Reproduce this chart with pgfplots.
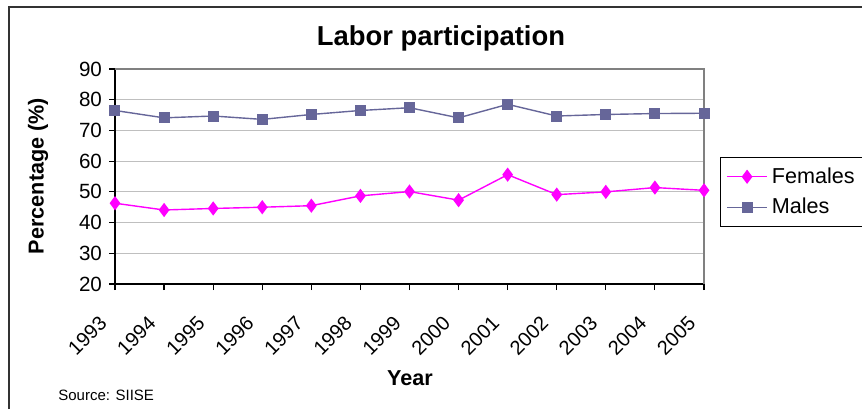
\documentclass[border=0pt]{standalone}
\usepackage{pgfplots}
\pgfplotsset{compat=1.18}
\usepackage{fontspec}
\setmainfont{Liberation Sans}
\definecolor{fem}{RGB}{255,0,255}
\definecolor{mal}{RGB}{102,102,153}
\begin{document}
\begin{tikzpicture}
\useasboundingbox (0,0) rectangle (431pt,204.5pt);
\draw[line width=1pt, black!80] (4.5pt,0) -- (4.5pt,201pt) -- (431pt,201pt);
\begin{axis}[
  at={(57.5pt,62.5pt)}, anchor=south west,
  scale only axis, width=294.5pt, height=107.5pt,
  xmin=1993, xmax=2005, ymin=20, ymax=90,
  xtick={1993,...,2005}, ytick={20,30,...,90},
  /pgf/number format/assume math mode=true,
  x tick label style={/pgf/number format/1000 sep={}, xshift=-8.5pt, yshift=-10pt, rotate=45, anchor=north east, font=\fontsize{10}{12}\selectfont, inner sep=1.5pt},
  y tick label style={font=\fontsize{10.3}{12}\selectfont},
  tick align=outside, tick pos=left,
  major tick length=3pt,
  ymajorgrids, grid style={gray!50, line width=0.6pt},
  axis line style={line width=0.6pt},
  axis x line*=bottom, axis y line*=left,
  tick style={black, line width=0.6pt},
  clip=false,
  legend style={at={(1.027,0.591)}, anchor=north west, draw=black, line width=0.5pt, font=\fontsize{10.8}{12.5}\selectfont, inner xsep=3pt, inner ysep=3pt, row sep=2pt},
  legend cell align=left,
  legend image code/.code={\draw[mark repeat=2,mark phase=2] plot coordinates {(0pt,0pt) (10pt,0pt) (20pt,0pt)};},
]
\draw[gray, line width=0.6pt] (rel axis cs:0,1) -- (rel axis cs:1,1) -- (rel axis cs:1,0);
\addplot[fem, line width=0.7pt, mark=diamond*, mark size=3pt, mark options={fill=fem, draw=fem}] coordinates {
(1993,46.3) (1994,44.1) (1995,44.6) (1996,45.0) (1997,45.5) (1998,48.7) (1999,50.1)
(2000,47.3) (2001,55.6) (2002,49.1) (2003,50.0) (2004,51.4) (2005,50.5)};
\addlegendentry{Females}
\addplot[mal, line width=0.7pt, mark=square*, mark size=2.4pt, mark options={fill=mal, draw=mal}] coordinates {
(1993,76.5) (1994,74.1) (1995,74.7) (1996,73.6) (1997,75.2) (1998,76.5) (1999,77.4)
(2000,74.1) (2001,78.5) (2002,74.7) (2003,75.2) (2004,75.5) (2005,75.6)};
\addlegendentry{Males}
\end{axis}
\node[font=\bfseries\fontsize{13.7}{16}\selectfont] at (220.5pt,185.5pt) {Labor participation};
\node[font=\bfseries\fontsize{10.8}{12.5}\selectfont, rotate=90] at (19pt,116.5pt) {Percentage (\%)};
\node[font=\bfseries\fontsize{10.8}{12.5}\selectfont] at (205pt,15.5pt) {Year};
\node[font=\fontsize{7.5}{9}\selectfont, anchor=west, inner sep=0pt] at (29pt,7pt) {Source: SIISE};
\end{tikzpicture}
\end{document}
